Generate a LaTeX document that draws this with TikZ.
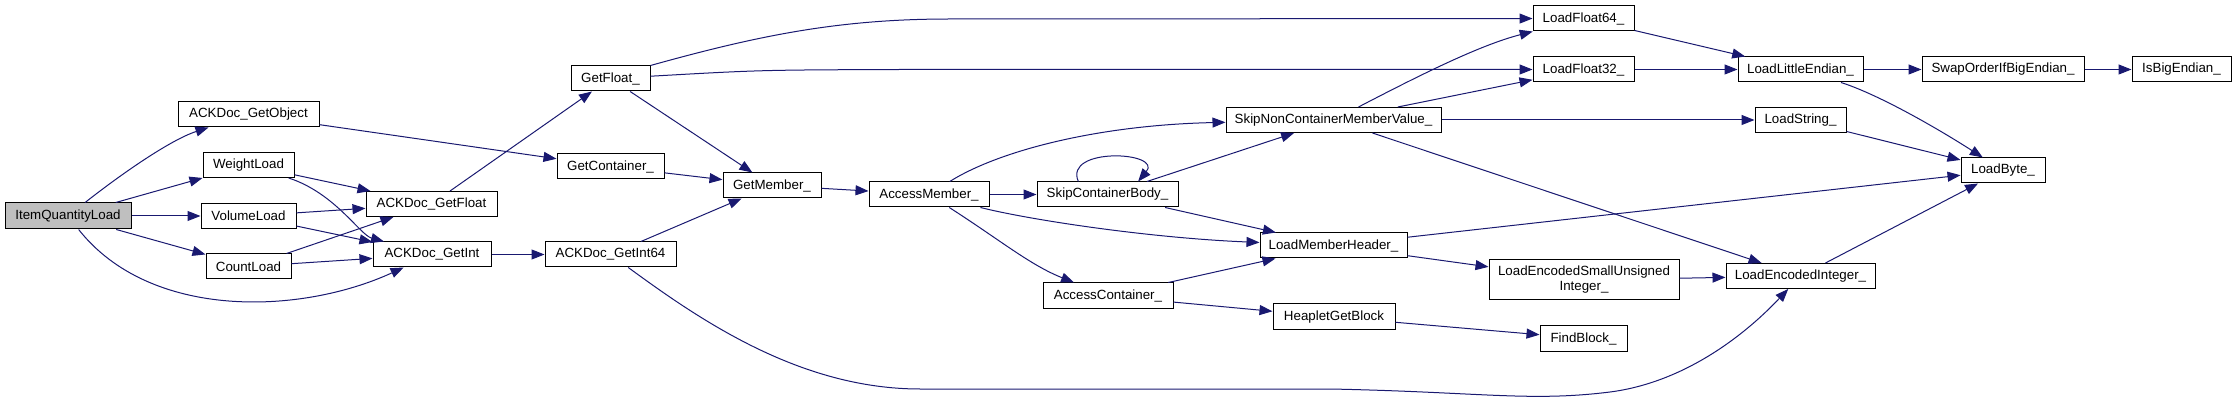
\documentclass[tikz,border=0pt]{standalone}
\usepackage{fontspec}
\setmainfont{Liberation Sans}
\usetikzlibrary{arrows.meta}
\definecolor{edgeblue}{RGB}{25,25,112}
\definecolor{rootgray}{RGB}{191,191,191}

\begin{document}
\begin{tikzpicture}[x=0.75pt, y=-0.75pt,
    func/.style={rectangle, draw=black, line width=0.75pt, fill=white, inner sep=0pt,
      minimum height=18.75pt, align=center, font=\fontsize{10}{11.25}\selectfont},
    root/.style={func, fill=rootgray},
    call/.style={-{Triangle[length=9.75pt, width=7.5pt]}, edgeblue, line width=0.75pt}
  ]
    \useasboundingbox (0,0) rectangle (2236,402);
    % Caller and first level
    \node[root, minimum width=94.5pt, minimum height=19.5pt] (iql) at (68,216) {ItemQuantityLoad};
    \node[func, minimum width=105.75pt] (getobj) at (248.5,114.5) {ACKDoc\_GetObject};
    \node[func, minimum width=68.25pt] (weight) at (248.5,165) {WeightLoad};
    \node[func, minimum width=71.25pt] (volume) at (248.5,216) {VolumeLoad};
    \node[func, minimum width=63.75pt] (count) at (248.5,266.5) {CountLoad};
    % ACKDoc getters
    \node[func, minimum width=98.25pt] (ackfloat) at (431.5,204) {ACKDoc\_GetFloat};
    \node[func, minimum width=88.5pt] (ackint) at (432,254.5) {ACKDoc\_GetInt};
    \node[func, minimum width=98.25pt] (ackint64) at (610.5,254.5) {ACKDoc\_GetInt64};
    \node[func, minimum width=59.25pt] (getfloat) at (610.5,78.5) {GetFloat\_};
    \node[func, minimum width=80.25pt] (getcont) at (610.5,166.5) {GetContainer\_};
    \node[func, minimum width=73.5pt] (getmem) at (772,185.5) {GetMember\_};
    % Member access
    \node[func, minimum width=90pt] (accmem) at (929,194.5) {AccessMember\_};
    \node[func, minimum width=105.75pt] (skipcb) at (1107.5,194.5) {SkipContainerBody\_};
    \node[func, minimum width=97.5pt, minimum height=19.5pt] (acccont) at (1108,296) {AccessContainer\_};
    \node[func, minimum width=161.25pt] (skipnc) at (1333.5,120) {SkipNonContainerMemberValue\_};
    \node[func, minimum width=110.25pt] (loadmh) at (1333.5,245.5) {LoadMemberHeader\_};
    \node[func, minimum width=91.5pt, minimum height=19.5pt] (heaplet) at (1334,317) {HeapletGetBlock};
    % Loaders
    \node[func, minimum width=75.75pt] (lf64) at (1583.5,18.5) {LoadFloat64\_};
    \node[func, minimum width=75.75pt] (lf32) at (1583.5,69.5) {LoadFloat32\_};
    \node[func, minimum width=142.5pt, minimum height=30pt] (lesui) at (1584,280)
      {LoadEncodedSmallUnsigned\\Integer\_};
    \node[func, minimum width=65.25pt] (findblock) at (1583.5,338.5) {FindBlock\_};
    \node[func, minimum width=93.75pt] (lle) at (1800.5,69.5) {LoadLittleEndian\_};
    \node[func, minimum width=68.25pt] (lstring) at (1800.5,120) {LoadString\_};
    \node[func, minimum width=111.75pt] (lenc) at (1800.5,276) {LoadEncodedInteger\_};
    \node[func, minimum width=121.5pt] (swap) at (2003,69.5) {SwapOrderIfBigEndian\_};
    \node[func, minimum width=74.25pt] (isbig) at (2181.5,69.5) {IsBigEndian\_};
    \node[func, minimum width=63pt] (lbyte) at (2003,170.5) {LoadByte\_};
    % Calls from ItemQuantityLoad
    \draw[call] (iql) .. controls (120,175) and (170,140) .. (getobj);
    \draw[call] (iql) -- (weight);
    \draw[call] (iql) -- (volume);
    \draw[call] (iql) -- (count);
    \draw[call] (iql) .. controls (150,320) and (300,315) .. (ackint);
    % Load functions
    \draw[call] (weight) -- (ackfloat);
    \draw[call] (weight) .. controls (335,193) and (360,235) .. (ackint);
    \draw[call] (volume) -- (ackfloat);
    \draw[call] (volume) -- (ackint);
    \draw[call] (count) -- (ackfloat);
    \draw[call] (count) -- (ackint);
    % ACKDoc layer
    \draw[call] (getobj) -- (getcont);
    \draw[call] (ackfloat) -- (getfloat);
    \draw[call] (ackint) -- (ackint64);
    \draw[call] (getfloat.north east) .. controls (760,35) and (840,19) .. (950,19) -- (lf64);
    \draw[call] (getfloat) .. controls (760,70) .. (900,69.5) -- (lf32);
    \draw[call] (getfloat) -- (getmem);
    \draw[call] (getcont) -- (getmem);
    \draw[call] (ackint64) -- (getmem);
    \draw[call] (ackint64) .. controls (700,320) and (800,389) .. (920,389) -- (1330,389)
      .. controls (1480,392) and (1530,402) .. (1610,392)
      .. controls (1680,383) and (1740,340) .. (lenc);
    % Member access
    \draw[call] (getmem) -- (accmem);
    \draw[call] (accmem) .. controls (1000,150) and (1100,125) .. (skipnc);
    \draw[call] (accmem) -- (skipcb);
    \draw[call] (accmem) .. controls (1030,220) and (1150,238) .. (loadmh);
    \draw[call] (accmem) .. controls (1000,240) and (1030,265) .. (acccont);
    \draw[call] (skipcb.156) .. controls +(-15,-35) and +(25,-30) .. (skipcb.23);
    \draw[call] (skipcb) -- (skipnc);
    \draw[call] (skipcb) -- (loadmh);
    \draw[call] (acccont) -- (loadmh);
    \draw[call] (acccont) -- (heaplet);
    \draw[call] (heaplet) -- (findblock);
    % Value loaders
    \draw[call] (skipnc) .. controls (1420,75) and (1480,45) .. (lf64);
    \draw[call] (skipnc) -- (lf32);
    \draw[call] (skipnc) -- (lstring);
    \draw[call] (skipnc) -- (lenc);
    \draw[call] (loadmh) -- (lbyte);
    \draw[call] (loadmh) -- (lesui);
    \draw[call] (lesui) -- (lenc);
    \draw[call] (lf64) -- (lle);
    \draw[call] (lf32) -- (lle);
    \draw[call] (lle) -- (swap);
    \draw[call] (lle) .. controls (1880,95) and (1940,130) .. (lbyte);
    \draw[call] (swap) -- (isbig);
    \draw[call] (lstring) -- (lbyte);
    \draw[call] (lenc) -- (lbyte);
\end{tikzpicture}
\end{document}
